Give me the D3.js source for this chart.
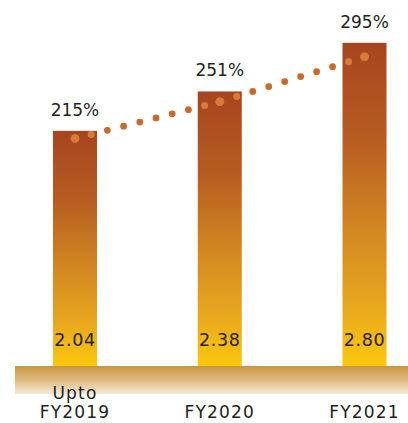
<!DOCTYPE html>
<html>
<head>
<meta charset="utf-8">
<script src="https://cdn.jsdelivr.net/npm/d3@7"></script>
<style>
  html, body { margin: 0; padding: 0; background: #fff; }
  svg { display: block; }
  text { font-family: "DejaVu Sans", sans-serif; fill: #231f20; }
</style>
</head>
<body>
<svg id="chart" width="408" height="423"></svg>
<script>
// Fiscal years shown along the baseline
const categories = ["Upto FY2019", "FY2020", "FY2021"];
const categoryLines = [["Upto", "FY2019"], ["FY2020"], ["FY2021"]];
// Bar values (printed inside each bar)
const barValues = [2.04, 2.38, 2.80];
// Ratio line values (printed above each bar)
const ratioValues = [215, 251, 295];

const W = 408, H = 423;
const svg = d3.select("#chart");
const defs = svg.append("defs");

const x = d3.scaleBand()
  .domain(categories)
  .range([2.6, 436.9])
  .paddingInner(0.696)
  .paddingOuter(0.348);

const baseY = 367;
const y = d3.scaleLinear().domain([0, 3.17]).range([baseY, 0]);
const yPct = d3.scaleLinear().domain([200, 300]).range([153.9, 51.66]);

// Bar fill: rust at the top fading into golden yellow at the bottom
const barGrad = defs.append("linearGradient")
  .attr("id", "barGrad").attr("x1", 0).attr("y1", 0).attr("x2", 0).attr("y2", 1);
[[0, "#a7451f"], [0.3, "#b75d21"], [0.55, "#d08322"], [0.8, "#e6a61f"], [1, "#fcc80b"]]
  .forEach(([o, c]) => barGrad.append("stop").attr("offset", o).attr("stop-color", c));

// Ground band gradient
const groundGrad = defs.append("linearGradient")
  .attr("id", "groundGrad").attr("x1", 0).attr("y1", 0).attr("x2", 0).attr("y2", 1);
[[0, "#c79740"], [0.5, "#deba83"], [1, "#f6e9d6"]]
  .forEach(([o, c]) => groundGrad.append("stop").attr("offset", o).attr("stop-color", c));

const data = categories.map((c, i) => ({ c, v: barValues[i], p: ratioValues[i], lines: categoryLines[i] }));

// Bars
svg.append("g").selectAll("rect")
  .data(data).join("rect")
  .attr("x", d => x(d.c))
  .attr("y", d => y(d.v))
  .attr("width", x.bandwidth())
  .attr("height", d => baseY - y(d.v))
  .attr("fill", "url(#barGrad)");

// Clip to the bar areas so dots over a bar can be tinted lighter
const clip = defs.append("clipPath").attr("id", "barClip");
clip.selectAll("rect").data(data).join("rect")
  .attr("x", d => x(d.c))
  .attr("y", d => y(d.v))
  .attr("width", x.bandwidth())
  .attr("height", d => baseY - y(d.v));

// Ground band
svg.append("rect")
  .attr("x", 15).attr("y", 366)
  .attr("width", W - 15).attr("height", 28)
  .attr("fill", "url(#groundGrad)");

// Dotted ratio line
const cx = d => x(d.c) + x.bandwidth() / 2;
const line = d3.line().x(cx).y(d => yPct(d.p));

function dottedPath(g, color) {
  const path = g.append("path")
    .datum(data)
    .attr("d", line)
    .attr("fill", "none")
    .attr("stroke", color)
    .attr("stroke-width", 6.8)
    .attr("stroke-linecap", "round");
  const L = path.node().getTotalLength();
  path.attr("stroke-dasharray", `0 ${L / 18}`);
  g.selectAll("circle").data(data).join("circle")
    .attr("cx", cx)
    .attr("cy", d => yPct(d.p))
    .attr("r", 4.3)
    .attr("fill", color);
}
dottedPath(svg.append("g"), "#c96a2b");
dottedPath(svg.append("g").attr("clip-path", "url(#barClip)"), "#d37d38");

// Ratio labels above bars
svg.append("g").selectAll("text")
  .data(data).join("text")
  .attr("x", cx)
  .attr("y", d => y(d.v) - 15)
  .attr("text-anchor", "middle")
  .attr("font-size", 17)
  .text(d => d.p + "%");

// Value labels inside bars
svg.append("g").selectAll("text")
  .data(data).join("text")
  .attr("x", cx)
  .attr("y", 345.5)
  .attr("text-anchor", "middle")
  .attr("font-size", 17.5)
  .attr("letter-spacing", 0.6)
  .text(d => d.v.toFixed(2));

// Category labels below the ground band
const cat = svg.append("g").selectAll("text")
  .data(data).join("text")
  .attr("text-anchor", "middle")
  .attr("font-size", 17)
  .attr("letter-spacing", 1.2);
cat.each(function (d) {
  const t = d3.select(this);
  const n = d.lines.length;
  d.lines.forEach((ln, j) => {
    t.append("tspan")
      .attr("x", cx(d))
      .attr("y", 418 - (n - 1 - j) * 19.5)
      .text(ln);
  });
});
</script>
</body>
</html>
